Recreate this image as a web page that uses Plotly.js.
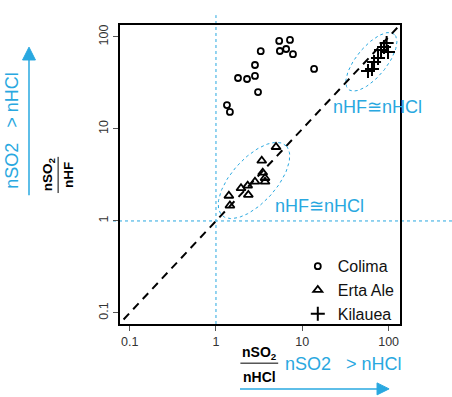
<!DOCTYPE html>
<html><head><meta charset="utf-8">
<script src="https://cdn.plot.ly/plotly-3.0.1.min.js"></script>
<style>html,body{margin:0;padding:0;background:#fff}</style>
</head><body><div id="chart" style="width:452px;height:397px"></div>
<script>
// ---- data ----
const colimaX = [5.4, 7.2, 5.5, 6.5, 7.8, 3.3, 2.83, 1.8, 2.29, 2.83, 3.07, 1.34, 1.45, 13.7];
const colimaY = [90.5, 92.8, 70.4, 74, 65, 70, 49.6, 35.8, 34.9, 37.7, 25.2, 18.2, 15.3, 44.9];
const ertaAleX = [4.96, 3.39, 3.48, 3.7, 3.7, 2.83, 2.33, 1.95, 2.37, 1.41, 1.45];
const ertaAleY = [6.37, 4.52, 3.35, 2.93, 2.67, 2.67, 2.42, 2.27, 1.92, 1.88, 1.47];
const kilaueaX = [94.9, 88.5, 98.4, 81.7, 75.4, 67.8, 64.2, 57.7];
const kilaueaY = [86, 77.8, 68.7, 72.2, 59.1, 53.5, 44.9, 42.7];
const seriesNames = ['Colima', 'Erta Ale', 'Kilauea'];
const tickVals = [0.1, 1, 10, 100];
const tickText = ['0.1', '1', '10', '100'];
const oneToOne = [0.085, 135];
const refValue = 1;
// ellipse outlines (log10 centre, semi-axes in decades, angle in degrees)
const ertaEllipse = {cx: 0.44, cy: 0.44, a: 0.53, b: 0.25, deg: 45};
const kilaueaEllipse = {cx: 1.80, cy: 1.73, a: 0.40, b: 0.17, deg: 48};

const BLUE = '#29a8e0';
const FONT = 'Liberation Sans, Arial, Helvetica, sans-serif';

function ellipseTrace(e) {
  const xs = [], ys = [];
  const th = e.deg * Math.PI / 180;
  for (let i = 0; i <= 120; i++) {
    const t = 2 * Math.PI * i / 120;
    const u = e.a * Math.cos(t), v = e.b * Math.sin(t);
    xs.push(Math.pow(10, e.cx + u * Math.cos(th) - v * Math.sin(th)));
    ys.push(Math.pow(10, e.cy + u * Math.sin(th) + v * Math.cos(th)));
  }
  return {x: xs, y: ys, mode: 'lines', line: {color: BLUE, width: 1, dash: 'dot'},
          showlegend: false, hoverinfo: 'skip'};
}

const traces = [
  ellipseTrace(ertaEllipse),
  ellipseTrace(kilaueaEllipse),
  {x: oneToOne, y: oneToOne, mode: 'lines', line: {color: '#000', width: 2, dash: '8px,6px'},
   showlegend: false, hoverinfo: 'skip'},
  {x: colimaX, y: colimaY, name: seriesNames[0], mode: 'markers',
   marker: {symbol: 'circle-open', size: 6, color: '#000', line: {width: 1.8, color: '#000'}}},
  {x: ertaAleX, y: ertaAleY, name: seriesNames[1], mode: 'markers',
   marker: {symbol: 'triangle-up-open', size: 8, color: '#000', line: {width: 1.8, color: '#000'}}},
  {x: kilaueaX, y: kilaueaY, name: seriesNames[2], mode: 'markers',
   marker: {symbol: 'cross-thin-open', size: 10, color: '#000', line: {width: 2, color: '#000'}}}
];

const axisCommon = {
  type: 'log', tickmode: 'array', tickvals: tickVals, ticktext: tickText,
  showgrid: false, zeroline: false, showline: true, mirror: true,
  linecolor: '#000', linewidth: 2, ticks: 'outside', ticklen: 5, tickwidth: 1,
  tickcolor: '#555', tickfont: {family: FONT, size: 12.5, color: '#333'}
};

function txt(x, y, text, size, color, angle) {
  return {xref: 'paper', yref: 'paper', x: x, y: y, xanchor: 'center', yanchor: 'middle',
          showarrow: false, text: text, textangle: angle || 0,
          font: {family: FONT, size: size, color: color}};
}
function seg(x0, y0, x1, y1, color, width) {
  return {type: 'line', xref: 'paper', yref: 'paper', x0: x0, y0: y0, x1: x1, y1: y1,
          line: {color: color, width: width}};
}
function tri(p) {
  return {type: 'path', xref: 'paper', yref: 'paper', fillcolor: BLUE,
          line: {color: BLUE, width: 1},
          path: 'M' + p[0] + ',' + p[1] + ' L' + p[2] + ',' + p[3] + ' L' + p[4] + ',' + p[5] + ' Z'};
}

const blueLabel = 'nSO2\u00A0\u00A0 > nHCl';

const layout = {
  width: 452, height: 397,
  margin: {l: 120, r: 52, t: 25, b: 73},
  paper_bgcolor: '#fff', plot_bgcolor: '#fff',
  font: {family: FONT},
  xaxis: Object.assign({}, axisCommon, {range: [-1.112, 2.132]}),
  yaxis: Object.assign({}, axisCommon, {range: [-1.12, 2.13], tickangle: -90}),
  showlegend: true,
  legend: {x: 0.635, y: 0.25, xanchor: 'left', yanchor: 'top', bgcolor: 'rgba(0,0,0,0)',
           font: {family: FONT, size: 16, color: '#111'}, itemwidth: 30, tracegroupgap: 0},
  shapes: [
    {type: 'line', xref: 'paper', yref: 'y', x0: -0.025, x1: 1.2, y0: refValue, y1: refValue,
     line: {color: BLUE, width: 1, dash: 'dot'}, layer: 'below'},
    {type: 'line', xref: 'x', yref: 'paper', x0: refValue, x1: refValue, y0: 0, y1: 1.033,
     line: {color: BLUE, width: 1, dash: 'dot'}, layer: 'below'},
    // fraction bars
    seg(0.43, -0.131, 0.565, -0.131, '#000', 1),
    seg(-0.221, 0.438, -0.221, 0.559, '#000', 1),
    // blue arrows
    seg(-0.325, 0.431, -0.325, 0.89, BLUE, 1.5),
    tri([-0.325, 0.926, -0.348, 0.883, -0.302, 0.883]),
    seg(0.4286, -0.217, 0.925, -0.217, BLUE, 1.5),
    tri([0.961, -0.217, 0.918, -0.197, 0.918, -0.237])
  ],
  annotations: [
    // y axis label
    txt(-0.257, 0.498, '<b>nSO<sub>2</sub></b>', 13.5, '#000', -90),
    txt(-0.186, 0.498, '<b>nHF</b>', 13.5, '#000', -90),
    txt(-0.386, 0.649, blueLabel, 18, BLUE, -90),
    // x axis label
    txt(0.497, -0.097, '<b>nSO<sub>2</sub></b>', 14, '#000'),
    txt(0.497, -0.177, '<b>nHCl</b>', 14, '#000'),
    txt(0.797, -0.134, blueLabel, 18, BLUE),
    // cluster labels
    txt(0.714, 0.395, 'nHF\u2245nHCl', 18, BLUE),
    txt(0.918, 0.726, 'nHF\u2245nHCl', 18, BLUE)
  ]
};

Plotly.newPlot('chart', traces, layout, {displayModeBar: false, staticPlot: true});
</script>
</body></html>
